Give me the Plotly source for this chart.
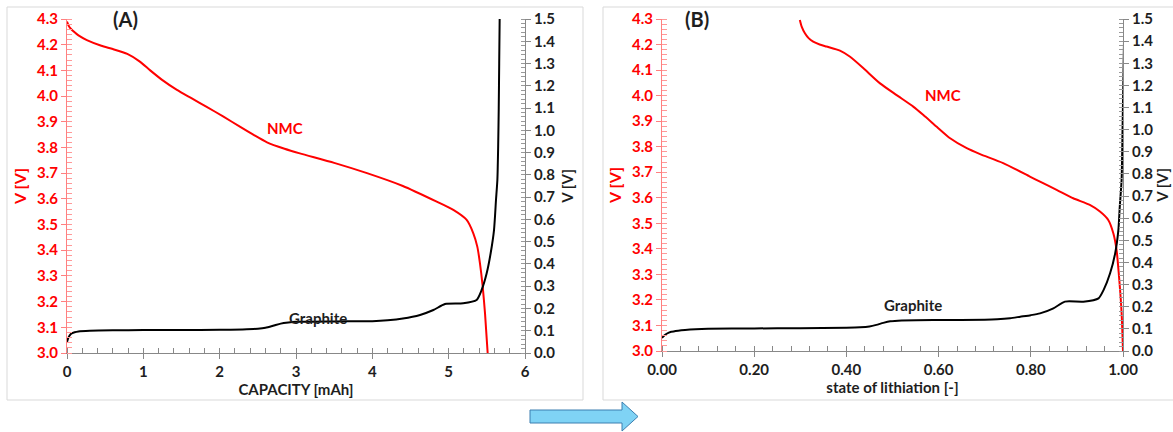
import plotly.graph_objects as go

# ---------------- data ----------------
cap_nmc = [0, 0.02, 0.05, 0.1, 0.15, 0.26, 0.45, 0.6, 0.79, 0.95, 1.09, 1.25, 1.44, 1.63, 1.83, 2.05, 2.27,
           2.45, 2.62, 2.85, 3.05, 3.5, 3.93, 4.4, 4.843, 5.061, 5.236, 5.323, 5.375, 5.41, 5.446,
           5.476, 5.511]
v_nmc = [4.29, 4.275, 4.262, 4.248, 4.236, 4.218, 4.196, 4.183, 4.164, 4.135, 4.10, 4.062, 4.024, 3.992,
         3.958, 3.92, 3.88, 3.848, 3.82, 3.795, 3.777, 3.74, 3.70, 3.65, 3.589, 3.557, 3.518,
         3.466, 3.414, 3.349, 3.258, 3.155, 3.0]

cap_gr = [0, 0.02, 0.05, 0.1, 0.15, 0.3, 0.6, 1.0, 1.5, 2.0, 2.3, 2.5, 2.6, 2.7, 2.8, 2.9, 3.0, 3.5, 4.0,
          4.2, 4.4, 4.625, 4.8, 4.952, 5.19, 5.366, 5.432, 5.498, 5.55, 5.594, 5.62, 5.638, 5.648, 5.656,
          5.662, 5.668]
v_gr = [0.05, 0.07, 0.085, 0.093, 0.097, 0.1, 0.102, 0.103, 0.103, 0.104, 0.106, 0.109, 0.113, 0.122,
        0.132, 0.137, 0.14, 0.142, 0.143, 0.147, 0.155, 0.171, 0.193, 0.220, 0.223, 0.238, 0.283, 0.358,
        0.448, 0.552, 0.687, 0.777, 0.92, 1.1, 1.3, 1.5]

sol_nmc = [0.299, 0.303, 0.310, 0.318, 0.328, 0.342, 0.357, 0.386, 0.408, 0.437, 0.473, 0.509, 0.545,
           0.567, 0.596, 0.625, 0.661, 0.690, 0.74, 0.798, 0.82, 0.857, 0.892, 0.928, 0.95, 0.968, 0.979,
           0.986, 0.992, 0.997, 1.0]
v_nmc_b = [4.296, 4.27, 4.244, 4.225, 4.211, 4.2, 4.192, 4.176, 4.152, 4.107, 4.048, 4.002, 3.957,
           3.924, 3.878, 3.833, 3.794, 3.771, 3.736, 3.683, 3.663, 3.63, 3.598, 3.572, 3.546, 3.513, 3.461,
           3.396, 3.278, 3.148, 3.0]

sol_gr = [0, 0.005, 0.01, 0.02, 0.035, 0.05, 0.1, 0.2, 0.3, 0.4, 0.43, 0.45, 0.465, 0.48, 0.495, 0.52, 0.6,
          0.7, 0.727, 0.755, 0.777, 0.80, 0.82, 0.849, 0.874, 0.914, 0.947, 0.958, 0.972, 0.983, 0.990,
          0.993, 0.997, 0.999, 1.001, 1.003]
v_gr_b = [0.059, 0.07, 0.078, 0.087, 0.092, 0.095, 0.1, 0.102, 0.103, 0.105, 0.107, 0.111, 0.118, 0.127,
          0.134, 0.138, 0.14, 0.141, 0.143, 0.148, 0.155, 0.162, 0.170, 0.193, 0.223, 0.223, 0.238, 0.276,
          0.351, 0.441, 0.547, 0.652, 0.773, 1.0, 1.25, 1.5]

W, H = 1173, 432
FONT = "Lato"
RED = "#FF0000"
DARK = "#1E1E1E"


def px(x):
    return x / W


def py(y):
    return 1 - y / H


fig = go.Figure()
LS = dict(shape="spline", smoothing=0.6, width=2)
fig.add_trace(go.Scatter(x=cap_nmc, y=v_nmc, mode="lines", line=dict(color=RED, **LS),
                         xaxis="x", yaxis="y", name="NMC"))
fig.add_trace(go.Scatter(x=cap_gr, y=v_gr, mode="lines", line=dict(color="black", **LS),
                         xaxis="x", yaxis="y2", name="Graphite"))
fig.add_trace(go.Scatter(x=sol_nmc, y=v_nmc_b, mode="lines", line=dict(color=RED, **LS),
                         xaxis="x2", yaxis="y3", name="NMC"))
fig.add_trace(go.Scatter(x=sol_gr, y=v_gr_b, mode="lines", line=dict(color="black", **LS),
                         xaxis="x2", yaxis="y4", name="Graphite"))

tick_black = dict(family=FONT, size=15, color=DARK, weight="bold")
tick_red = dict(family=FONT, size=15, color=RED, weight="bold")
title_black = dict(family=FONT, size=15, color=DARK, weight="bold")
title_red = dict(family=FONT, size=16, color=RED, weight="bold")

xdomA = [px(67), px(525)]
xdomB = [px(662), px(1123)]
ydomA = [py(353), py(19)]
ydomB = [py(351), py(19)]


def xax(dom, rng, dt, mdt, title, fmt, anchor):
    return dict(domain=dom, range=rng, dtick=dt, tick0=0, tickformat=fmt, anchor=anchor,
                showline=True, linecolor="#888888", linewidth=1, ticks="outside", ticklen=5,
                tickcolor="#888888", showgrid=False, zeroline=False, tickfont=tick_black,
                minor=dict(dtick=mdt, ticks="inside", ticklen=5, tickcolor="#888888"),
                title=dict(text=title, font=title_black, standoff=0), automargin=False, fixedrange=True)


def yax_left(dom, anchor):
    return dict(domain=dom, range=[3.0, 4.3], dtick=0.1, tick0=3.0, tickformat=".1f", anchor=anchor,
                showline=True, linecolor="#FF8080", linewidth=1, ticks="outside", ticklen=5,
                tickcolor="#FF8080", showgrid=False, zeroline=False, tickfont=tick_red,
                minor=dict(dtick=0.02, ticks="inside", ticklen=5, tickcolor="#FF9999"),
                title=dict(text="V [V]", font=title_red, standoff=6), automargin=False, fixedrange=True)


def yax_right(dom, anchor, overlay, standoff):
    return dict(domain=dom, range=[0, 1.5], dtick=0.1, tick0=0, tickformat=".1f", anchor=anchor,
                overlaying=overlay, side="right",
                showline=True, linecolor="#888888", linewidth=1, ticks="outside", ticklen=5,
                tickcolor="#888888", showgrid=False, zeroline=False, tickfont=tick_black,
                minor=dict(dtick=0.02, ticks="inside", ticklen=4, tickcolor="#999999"),
                title=dict(text="V [V]", font=title_black, standoff=standoff), automargin=False,
                fixedrange=True)


fig.update_layout(
    width=W, height=H, margin=dict(l=0, r=0, t=0, b=0),
    paper_bgcolor="white", plot_bgcolor="white", showlegend=False,
    xaxis=xax(xdomA, [0, 6], 1, 0.2, "CAPACITY [mAh]", "d", "y"),
    yaxis=yax_left(ydomA, "x"),
    yaxis2=yax_right(ydomA, "x", "y", 8),
    xaxis2=xax(xdomB, [0, 1], 0.2, 0.04, "state of lithiation [-]", ".2f", "y3"),
    yaxis3=yax_left(ydomB, "x2"),
    yaxis4=yax_right(ydomB, "x2", "y3", 4),
)

# panel frames
fig.add_shape(type="rect", xref="paper", yref="paper", x0=px(7), x1=px(583), y0=py(400), y1=py(7),
              line=dict(color="#D9D9D9", width=1), layer="below")
fig.add_shape(type="rect", xref="paper", yref="paper", x0=px(603), x1=px(1190), y0=py(400), y1=py(7),
              line=dict(color="#D9D9D9", width=1), layer="below")

# arrow
ax = [530, 622, 622, 638, 622, 622, 530]
ay = [410, 410, 402, 416.5, 431, 423, 423]
path = "M " + " L ".join(f"{px(a)},{py(b)}" for a, b in zip(ax, ay)) + " Z"
fig.add_shape(type="path", xref="paper", yref="paper", path=path,
              fillcolor="#7FD3F5", line=dict(color="#3D7FB0", width=1))

# annotations
ann = [
    dict(x=0.76, y=4.3, xref="x", yref="y", text="(A)", font=dict(family=FONT, size=20, color=DARK, weight="bold")),
    dict(x=2.86, y=3.876, xref="x", yref="y", text="NMC", font=dict(family=FONT, size=15, color=RED, weight="bold")),
    dict(x=3.29, y=3.137, xref="x", yref="y", text="Graphite", font=dict(family=FONT, size=15, color=DARK, weight="bold")),
    dict(x=0.076, y=4.3, xref="x2", yref="y3", text="(B)", font=dict(family=FONT, size=20, color=DARK, weight="bold")),
    dict(x=0.61, y=4.002, xref="x2", yref="y3", text="NMC", font=dict(family=FONT, size=15, color=RED, weight="bold")),
    dict(x=0.544, y=3.18, xref="x2", yref="y3", text="Graphite", font=dict(family=FONT, size=15, color=DARK, weight="bold")),
]
for a in ann:
    fig.add_annotation(showarrow=False, **a)

fig.write_html("out.html", config={"displayModeBar": False},
               post_script="document.body.style.margin='0';")
